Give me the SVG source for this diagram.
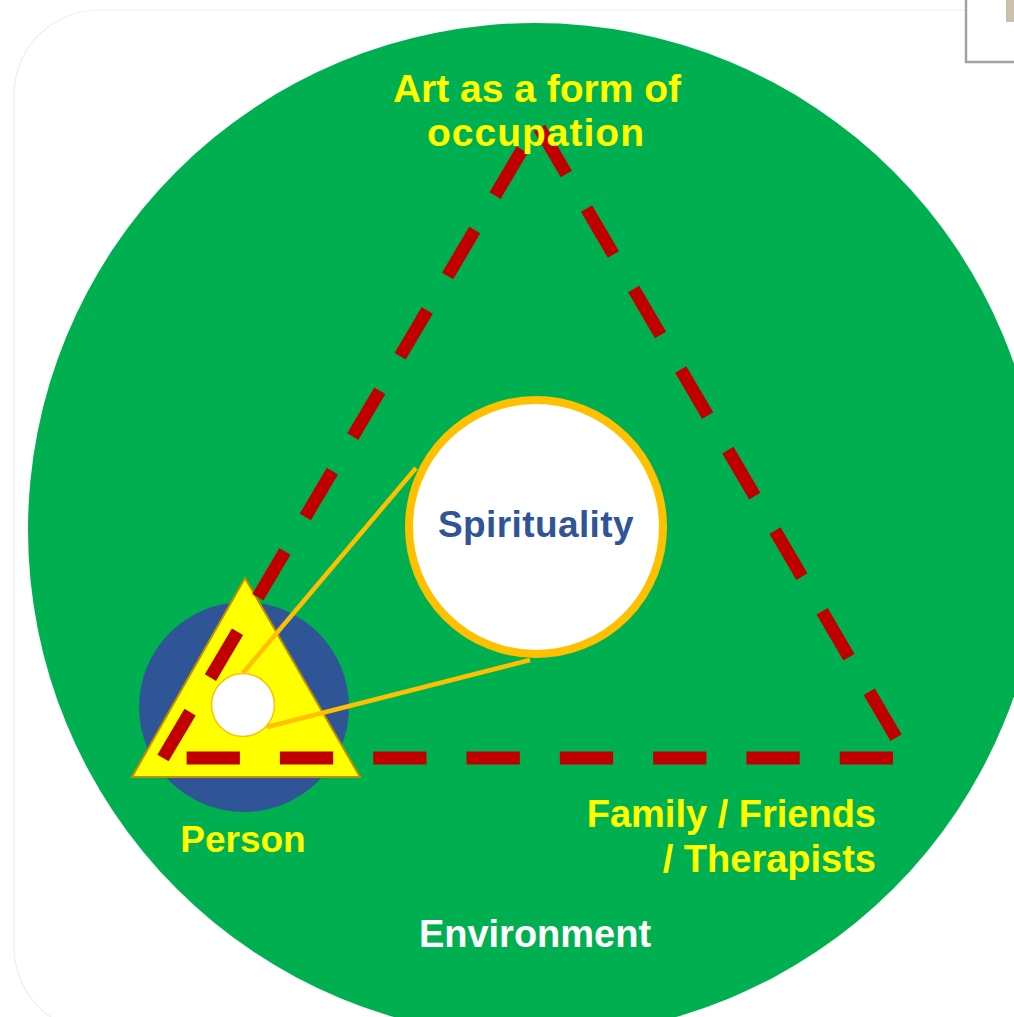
<svg xmlns="http://www.w3.org/2000/svg" width="1014" height="1017" viewBox="0 0 1014 1017">
  <style>
    .lbl { font-family: "Century Gothic", "Liberation Sans", Arial, sans-serif; font-weight: bold; }
    .yellow { fill: #FFFF00; }
    .side { stroke: #C00000; stroke-width: 13; stroke-dasharray: 53.3 40; fill: none; }
    .link { stroke: #FFC000; stroke-width: 4.5; fill: none; }
  </style>

  <!-- page card and corner frame -->
  <g id="page">
    <rect x="0" y="0" width="1014" height="1017" fill="#ffffff"/>
    <rect x="14" y="10" width="1060" height="1022" rx="85" ry="85" fill="#ffffff" stroke="#eeeeee" stroke-width="1.2"/>
    <rect x="966" y="-10" width="60" height="72" fill="#ffffff" stroke="#a3a3a3" stroke-width="2.5"/>
    <rect x="1006" y="-5" width="20" height="27" fill="#cbbfae"/>
  </g>

  <!-- environment -->
  <g id="environment">
    <circle cx="535" cy="530" r="507" fill="#00B050"/>
    <text class="lbl" x="535" y="947" font-size="38" fill="#ffffff" text-anchor="middle">Environment</text>
  </g>

  <!-- person -->
  <g id="person">
    <circle cx="244" cy="707" r="105" fill="#2F5597"/>
    <polygon points="245,578 360,777 132,777" fill="#FFFF00" stroke="#BF9000" stroke-width="2" stroke-linejoin="miter"/>
    <text class="lbl yellow" x="243" y="852" font-size="37" text-anchor="middle">Person</text>
  </g>

  <!-- dashed triangle linking person, occupation and others -->
  <g id="occupation-triangle">
    <line class="side" x1="163" y1="758" x2="537.2" y2="124.2"/>
    <line class="side" x1="537.2" y1="124.2" x2="908" y2="758" stroke-dashoffset="88.9"/>
    <line class="side" x1="908" y1="758" x2="163" y2="758" stroke-dashoffset="78.3"/>
  </g>

  <!-- links from the person's core to spirituality -->
  <g id="connectors">
    <line class="link" x1="243" y1="673" x2="416" y2="468"/>
    <line class="link" x1="267" y1="727" x2="530" y2="660"/>
  </g>

  <g id="core">
    <circle cx="243" cy="705" r="31.5" fill="#ffffff" stroke="#FFC000" stroke-width="1.5"/>
  </g>

  <g id="spirituality">
    <circle cx="536" cy="527" r="127" fill="#ffffff" stroke="#FFC000" stroke-width="8"/>
    <text class="lbl" x="536" y="537" font-size="37" fill="#2F5597" text-anchor="middle" letter-spacing="0.4">Spirituality</text>
  </g>

  <g id="art-label">
    <text class="lbl yellow" x="537" y="102" font-size="39" text-anchor="middle">Art as a form of</text>
    <text class="lbl yellow" x="536" y="146" font-size="39" text-anchor="middle" letter-spacing="1">occupation</text>
  </g>

  <g id="others-label">
    <text class="lbl yellow" x="876" y="827" font-size="38" text-anchor="end">Family / Friends</text>
    <text class="lbl yellow" x="876" y="872" font-size="38" text-anchor="end">/ Therapists</text>
  </g>
</svg>
